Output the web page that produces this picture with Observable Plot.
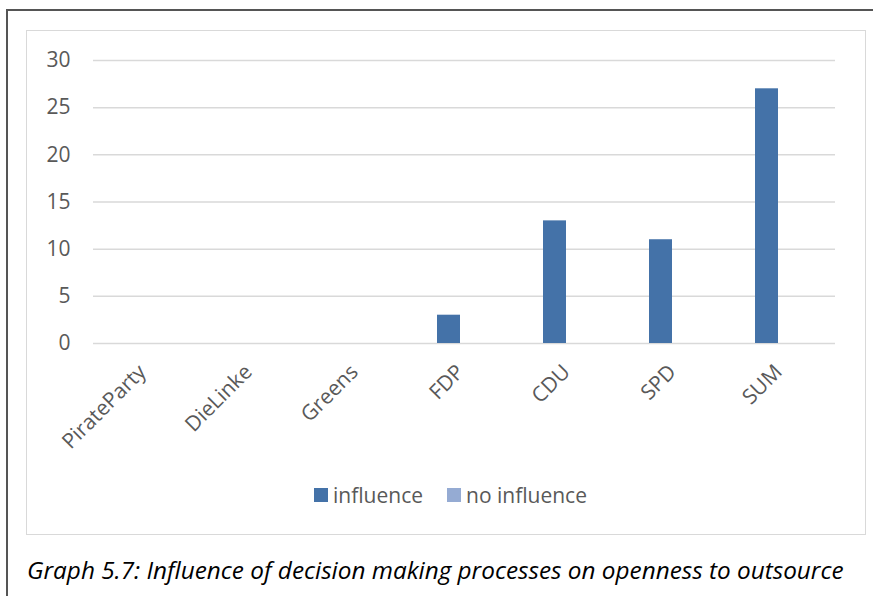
<!DOCTYPE html>
<html>
<head>
<meta charset="utf-8">
<script src="https://cdn.jsdelivr.net/npm/d3@7"></script>
<script src="https://cdn.jsdelivr.net/npm/@observablehq/plot@0.6"></script>
<style>
  html, body { margin: 0; padding: 0; background: #fff; overflow: hidden; }
  body { width: 873px; height: 596px; position: relative; font-family: "Open Sans", sans-serif; }
  #outer { position: absolute; left: 6px; top: 9px; width: 900px; height: 700px; border-left: 2px solid #555; border-top: 2px solid #555; box-sizing: border-box; }
  #inner { position: absolute; left: 26px; top: 30px; width: 840px; height: 505px; border: 1.5px solid #d9d9d9; box-sizing: border-box; }
  #chart { position: absolute; left: 0; top: 0; }
  #legend { position: absolute; left: 0; width: 873px; top: 481px; display: flex; justify-content: center; gap: 0; font-size: 21px; color: #595959; line-height: 28px; padding-left: 28px; box-sizing: border-box; }
  #legend .item { display: flex; align-items: center; margin: 0 12px; }
  #legend .sw { width: 14px; height: 14px; margin-right: 5px; }
  #caption { position: absolute; left: 27px; top: 556px; font-style: italic; font-size: 24.3px; color: #000; white-space: nowrap; line-height: 28px; }
</style>
</head>
<body>
<div id="outer"></div>
<div id="inner"></div>
<div id="chart"></div>
<div id="legend"></div>
<div id="caption">Graph 5.7: Influence of decision making processes on openness to outsource</div>
<script>
const categories = ["PirateParty", "DieLinke", "Greens", "FDP", "CDU", "SPD", "SUM"];
const seriesNames = ["influence", "no influence"];
const influence = [0, 0, 0, 3, 13, 11, 27];
const noInfluence = [0, 0, 0, 0, 0, 0, 0];
const yTicks = [0, 5, 10, 15, 20, 25, 30];
const seriesColors = ["#4472a8", "#95abd3"];

const rows = [];
categories.forEach((c, i) => {
  rows.push({category: c, series: seriesNames[0], value: influence[i]});
  rows.push({category: c, series: seriesNames[1], value: noInfluence[i]});
});

const plot = Plot.plot({
  width: 873,
  height: 470,
  marginLeft: 91,
  marginRight: 36,
  marginTop: 60,
  marginBottom: 127,
  style: {background: "transparent", fontFamily: "Open Sans", fontSize: "21px", color: "#595959", overflow: "visible"},
  fx: {domain: categories, padding: 0, label: null},
  x: {domain: seriesNames, paddingInner: 0.25, paddingOuter: 0.79, axis: null},
  y: {domain: [0, 30], ticks: yTicks, label: null, tickSize: 0, tickPadding: 23},
  color: {domain: seriesNames, range: seriesColors},
  marks: [
    Plot.ruleY(yTicks, {stroke: "#d9d9d9", strokeWidth: 1.5, facetAnchor: null}),
    Plot.barY(rows, {fx: "category", x: "series", y: "value", fill: "series"}),
    Plot.axisFx({anchor: "bottom", tickRotate: -45, tickSize: 0, tickPadding: 25, dx: -4, label: null, fill: "#595959"})
  ]
});
document.getElementById("chart").appendChild(plot);

const legend = document.getElementById("legend");
seriesNames.forEach((s, i) => {
  const item = document.createElement("div");
  item.className = "item";
  const sw = document.createElement("div");
  sw.className = "sw";
  sw.style.background = seriesColors[i];
  const t = document.createElement("span");
  t.textContent = s;
  item.appendChild(sw);
  item.appendChild(t);
  legend.appendChild(item);
});
</script>
</body>
</html>
